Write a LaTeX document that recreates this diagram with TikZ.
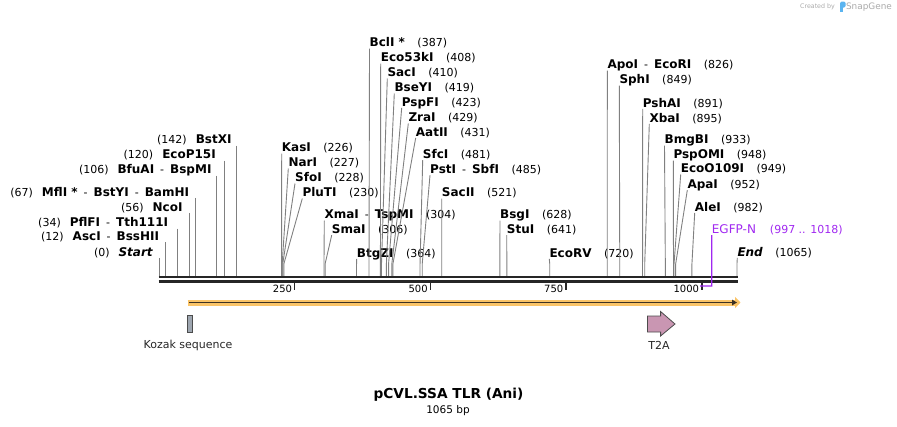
\documentclass[tikz,border=0pt]{standalone}
\usepackage{fontspec}
\setmainfont{DejaVu Sans}
\usetikzlibrary{arrows.meta}

\definecolor{sitegray}{RGB}{128,128,128}
\definecolor{egfppurple}{RGB}{160,40,240}
\definecolor{orfhalo}{RGB}{250,196,104}
\definecolor{orfline}{RGB}{60,50,36}
\definecolor{kozakfill}{RGB}{158,166,176}
\definecolor{tfill}{RGB}{201,150,178}
\definecolor{markgray}{RGB}{170,170,170}
\definecolor{logoblue}{RGB}{90,180,240}

\newcommand{\sitesep}{\hspace{6pt}{\mdseries\fontsize{11}{13}\selectfont -}\hspace{6pt}}
\newcommand{\sitenum}[1]{{\mdseries\fontsize{11}{13}\selectfont(#1)}}

\begin{document}
\begin{tikzpicture}[x=1pt,y=-1pt]
    \tikzstyle{site_label}=[inner sep=0pt, text depth=1.5pt, font=\fontsize{12}{14}\selectfont\bfseries]
    \tikzstyle{site_line}=[draw=sitegray, line width=0.9pt]
    \tikzstyle{backbone}=[draw=black!85, line width=2.6pt]
    \tikzstyle{tick}=[draw=black!85, line width=1.6pt]
    \tikzstyle{tick_label}=[inner sep=0pt, font=\fontsize{10}{12}\selectfont]
    \tikzstyle{feature_name}=[inner sep=0pt, font=\fontsize{11}{13}\selectfont, text=black!85]
    \tikzstyle{kozak_box}=[draw=black!70, fill=kozakfill, line width=0.8pt, minimum width=5pt, minimum height=16.5pt, inner sep=0pt]
    \tikzstyle{t2a_shape}=[draw=black!70, fill=tfill, line width=0.8pt]
    \tikzstyle{orf_halo}=[draw=orfhalo, line width=6pt, shorten <=-1.5pt, shorten >=-3.5pt, -{Triangle[length=5.5pt,width=11pt]}]
    \tikzstyle{orf_arrow}=[draw=orfline, line width=1.8pt, -{Triangle[length=5pt,width=5.5pt]}]
    \tikzstyle{egfp_line}=[draw=egfppurple, line width=1.4pt]
    \useasboundingbox (0,0) rectangle (897,426);

    % backbone
    \coordinate (bb_a1) at (158.6,277);
    \coordinate (bb_b1) at (737.8,277);
    \coordinate (bb_a2) at (158.6,281.5);
    \coordinate (bb_b2) at (737.8,281.5);

    % sites left of their line
    \foreach \id/\rx/\cy/\bp/\nm in {
        Start/153.3/251.7/0/{\textit{Start}},
        AscI/159.3/236/12/{AscI\sitesep BssHII},
        PflFI/168.3/222.3/34/{PflFI\sitesep Tth111I},
        NcoI/182.7/206.7/56/{NcoI},
        MflI/189.3/191.7/67/{MflI *\sitesep BstYI\sitesep BamHI},
        BfuAI/211.7/169.3/106/{BfuAI\sitesep BspMI},
        EcoP15I/216/154.3/120/{EcoP15I},
        BstXI/231.7/139.3/142/{BstXI}}
    {
      \coordinate (site_\id) at ({159+\bp*0.5427},276);
      \draw node at (\rx,\cy+4.5) [site_label, anchor=base east] (label_\id) {\sitenum{\bp}\hspace{9pt}\nm};
      \draw[site_line] (site_\id |- label_\id.south) -- (site_\id);
    }

    % sites right of their line
    \foreach \id/\lx/\cy/\bp/\nm in {
        KasI/281.7/147.3/226/{KasI},
        NarI/288.3/162.3/227/{NarI},
        SfoI/295/177.3/228/{SfoI},
        PluTI/302.3/192.3/230/{PluTI},
        XmaI/324.3/214.3/304/{XmaI\sitesep TspMI},
        SmaI/331.7/229/306/{SmaI},
        BtgZI/356.7/252.7/364/{BtgZI},
        BclI/369.5/42.3/387/{BclI *},
        Eco53kI/380.7/57.3/408/{Eco53kI},
        SacI/387.3/72.3/410/{SacI},
        BseYI/394.3/87.3/419/{BseYI},
        PspFI/401.7/101.7/423/{PspFI},
        ZraI/408.3/117.3/429/{ZraI},
        AatII/415.7/131.7/431/{AatII},
        SfcI/422.7/154/481/{SfcI},
        PstI/430/169/485/{PstI\sitesep SbfI},
        SacII/441.7/192.3/521/{SacII},
        BsgI/500/214.3/628/{BsgI},
        StuI/506.7/229/641/{StuI},
        EcoRV/549.3/252.7/720/{EcoRV},
        ApoI/607.3/64.3/826/{ApoI\sitesep EcoRI},
        SphI/619.3/79.3/849/{SphI},
        PshAI/642.7/102.7/891/{PshAI},
        XbaI/649.3/117.7/895/{XbaI},
        BmgBI/664.5/139.3/933/{BmgBI},
        PspOMI/673.3/154.3/948/{PspOMI},
        EcoO109I/680.7/168.3/949/{EcoO109I},
        ApaI/687.3/184/952/{ApaI},
        AleI/694.7/206.7/982/{AleI},
        End/737.3/251.7/1065/{\textit{End}}}
    {
      \coordinate (site_\id) at ({159+\bp*0.5427},276);
      \coordinate (bend_\id) at ({159+\bp*0.5427},264);
      \draw node at (\lx,\cy+4.5) [site_label, anchor=base west] (label_\id) {\nm\hspace{12.5pt}\sitenum{\bp}};
      \draw[site_line] (label_\id.south west) -- (bend_\id) -- (site_\id);
    }

    \draw[backbone] (bb_a1) -- (bb_b1);
    \draw[backbone] (bb_a2) -- (bb_b2);

    % ticks
    \foreach \t in {250,500,750,1000}
    {
      \coordinate (tick_\t) at ({159+\t*0.5427},283);
      \draw[tick] (tick_\t) -- ++(0,6.5);
      \draw node at ({159+\t*0.5427-2.5},289) [tick_label, anchor=east] (ticklabel_\t) {\t};
    }

    % EGFP-N
    \coordinate (egfp_a) at ({159+997*0.5427},286);
    \coordinate (egfp_b) at ({159+1018*0.5427+0.3},286);
    \draw node at (711.7,233.5) [inner sep=0pt, text depth=1.5pt, anchor=base west, text=egfppurple, font=\fontsize{12}{14}\selectfont] (label_EGFP) {EGFP-N\hspace{14pt}{\fontsize{11}{13}\selectfont(997 .. 1018)}};
    \draw[egfp_line] (label_EGFP.south west) -- (egfp_b) -- (egfp_a);

    % orf
    \coordinate (orf_a) at (189,302.5);
    \coordinate (orf_b) at (737,302.5);
    \draw[orf_halo] (orf_a) -- (orf_b);
    \draw[orf_arrow] (orf_a) -- (orf_b);

    % features
    \draw node at (189.7,324) [kozak_box] (kozak) {};
    \draw node at (188,345) [feature_name] (kozak_label) {Kozak sequence};
    \draw[t2a_shape] (647.5,316) -- (660.6,316) -- (660.6,311.5) -- (675,324)
      -- (660.6,336) -- (660.6,332) -- (647.5,332) -- cycle;
    \draw node at (659,345) [feature_name] (t2a_label) {T2A};

    % title
    \draw node at (448.5,395) [inner sep=0pt, font=\fontsize{13.7}{16}\selectfont\bfseries] (title) {pCVL.SSA TLR (Ani)};
    \draw node at (448,410.5) [inner sep=0pt, font=\fontsize{10.5}{12}\selectfont] (length) {1065 bp};

    % watermark
    \draw node at (817.5,7) [inner sep=0pt, text=markgray, font=\fontsize{6.3}{8}\selectfont] (created) {Created by};
    \fill[logoblue, rounded corners=1.5pt] (840,1.5) rectangle (845.5,7.5);
    \fill[logoblue] (840,3) rectangle (842.6,12);
    \draw node at (869,7) [inner sep=0pt, text=markgray, font=\fontsize{8.9}{10}\selectfont] (snapgene) {SnapGene};
\end{tikzpicture}
\end{document}
